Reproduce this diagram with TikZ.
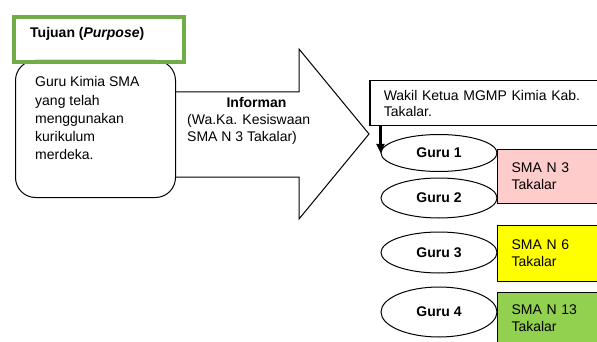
\documentclass[tikz,border=0pt]{standalone}
\usepackage{fontspec}
\setmainfont{Liberation Sans}
\usetikzlibrary{shapes.geometric,arrows.meta,positioning}

\definecolor{hijau}{HTML}{70AD47}
\definecolor{merahmuda}{HTML}{FFCCCC}
\definecolor{kuning}{HTML}{FFFF00}
\definecolor{hijaumuda}{HTML}{92D050}

\tikzset{
    teks/.style={font=\fontsize{14}{18.25}\selectfont, align=left, inner sep=0pt},
    guru/.style={draw, ellipse, line width=1pt, fill=white, minimum width=116pt,
        font=\bfseries\fontsize{14}{17}\selectfont},
    sekolah/.style={draw, line width=1pt, anchor=north west, text width=80pt,
        inner xsep=14pt, align=left, font=\fontsize{14}{17}\selectfont},
}

\begin{document}
\begin{tikzpicture}[x=1pt, y=-1pt]
    \useasboundingbox (0,0) rectangle (597,342);

    % panah informan
    \coordinate (A) at (175, 92);
    \coordinate (B) at (299, 92);
    \coordinate (C) at (299, 49);
    \coordinate (T) at (369, 134);
    \coordinate (E) at (299, 219);
    \coordinate (F) at (299, 177);
    \coordinate (G) at (175, 177);
    \draw[line width=1pt, fill=white] (A) -- (B) -- (C) -- (T) -- (E) -- (F) -- (G) -- cycle;

    \node[teks, font=\bfseries\fontsize{14}{17}\selectfont, anchor=base] (informan) at (256.5, 108) {Informan};
    \node[teks, font=\fontsize{14}{17}\selectfont, anchor=base west] (waka) at (187, 142) {(Wa.Ka. Kesiswaan\\SMA N 3 Takalar)};

    % subjek
    \node[draw, line width=1pt, fill=white, rounded corners=20pt, minimum width=160pt,
        minimum height=137pt, anchor=north west] (subjek) at (15, 60) {};
    \node[teks, anchor=base west] (subjekteks) at (35, 160) {Guru Kimia SMA\\yang telah\\menggunakan\\kurikulum\\merdeka.};

    % tujuan
    \node[draw=hijau, line width=4pt, minimum width=170pt, minimum height=45pt,
        anchor=north west] (tujuan) at (12, 15) {};
    \node[teks, font=\bfseries\fontsize{14}{17}\selectfont, anchor=base west] (tujuanteks) at (30, 38) {Tujuan (\textit{Purpose})};

    % wakil ketua
    \node[draw, line width=1.5pt, fill=white, anchor=north west, minimum width=236pt,
        minimum height=45pt, text width=208pt, inner xsep=14pt, align=left,
        font=\fontsize{14}{16}\selectfont] (wakil) at (369, 80) {Wakil Ketua MGMP Kimia Kab.\\Takalar.};

    % guru
    \node[guru, minimum height=37pt] (guru1) at (439, 153) {Guru 1};
    \node[guru, minimum height=40pt] (guru2) at (439, 198) {Guru 2};
    \node[guru, minimum height=41pt] (guru3) at (439, 252.5) {Guru 3};
    \node[guru, minimum height=50pt] (guru4) at (439, 312) {Guru 4};

    \draw[-{Triangle[length=9pt, width=8pt]}, line width=2.5pt] (guru1.west |- wakil.south) -- (guru1.west);

    % sekolah
    \node[sekolah, fill=merahmuda, minimum height=54pt] (sma3) at (497, 149) {SMA N 3\\Takalar};
    \node[sekolah, fill=kuning, minimum height=56pt] (sma6) at (497, 225) {SMA N 6\\Takalar};
    \node[sekolah, fill=hijaumuda, minimum height=52pt] (sma13) at (497, 292) {SMA N 13\\Takalar};
\end{tikzpicture}
\end{document}
